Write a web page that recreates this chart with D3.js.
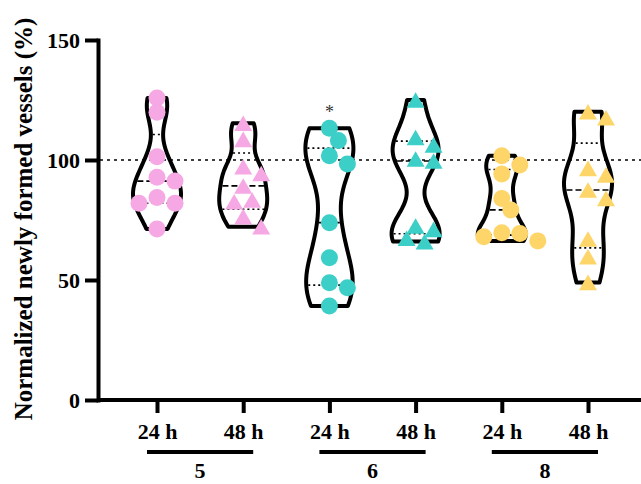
<!DOCTYPE html>
<html>
<head>
<meta charset="utf-8">
<title>Violin</title>
<script src="https://cdn.jsdelivr.net/npm/d3@7"></script>
<style>
body { margin: 0; background: #fff; }
svg text { font-family: "Liberation Serif", "Times New Roman", Tinos, "DejaVu Serif", serif !important; font-weight: bold; }
</style>
</head>
<body>
<div id="chart"></div>
<script>
// data (% of control)
var groups = ["5", "6", "8"];
var times = ["24 h", "48 h"];
var v5_24 = [125.8, 119.9, 101.4, 92.8, 91.2, 84.4, 82.0, 82.0, 71.3];
var v5_48 = [115.3, 108.6, 97.2, 94.4, 89.2, 83.3, 82.6, 76.4, 72.2];
var v6_24 = [113.2, 108.1, 101.8, 98.3, 73.9, 59.3, 48.9, 46.8, 39.2];
var v6_48 = [125.0, 109.4, 106.3, 100.4, 99.6, 72.5, 71.1, 67.4, 66.0];
var v8_24 = [101.8, 97.9, 94.2, 84.0, 79.2, 69.7, 69.4, 68.0, 66.3];
var v8_48 = [120.1, 117.6, 96.5, 93.8, 87.5, 84.0, 67.1, 59.7, 49.0];
var series = [v5_24, v5_48, v6_24, v6_48, v8_24, v8_48];
var marks = ["", "", "*", "", "", ""];
var yTicks = [0, 50, 100, 150];
var refLine = 100;

var colors = {"5": "#F5A8E4", "6": "#3CCFC7", "8": "#FDD568"};

var W = 641, H = 484;
var svg = d3.select("#chart").append("svg").attr("width", W).attr("height", H);

var keys = [];
groups.forEach(function(g) { times.forEach(function(t) { keys.push(g + "|" + t); }); });

var x = d3.scalePoint().domain(keys).range([157, 588]);
var y = d3.scaleLinear().domain([0, 150]).range([400, 40]);
var axisX = 98;

// reference line
svg.append("line")
    .attr("x1", axisX + 2).attr("x2", W)
    .attr("y1", y(refLine)).attr("y2", y(refLine))
    .attr("stroke", "#000").attr("stroke-width", 1.5)
    .attr("stroke-dasharray", "3,4");

function gauss(u) { return Math.exp(-0.5 * u * u) / Math.sqrt(2 * Math.PI); }
function quart(s, p) {
    // (n+1)p method
    var pos = (s.length + 1) * p - 1, lo = Math.floor(pos), f = pos - lo;
    return s[lo] + f * (s[lo + 1] - s[lo]);
}

var triSym = {
    draw: function(ctx, size) {
        var s = Math.sqrt(size * 4 / Math.sqrt(3)), h = s * Math.sqrt(3) / 2;
        ctx.moveTo(0, -h / 2);
        ctx.lineTo(s / 2, h / 2);
        ctx.lineTo(-s / 2, h / 2);
        ctx.closePath();
    }
};

keys.forEach(function(k, i) {
    var vals = series[i];
    var g = k.split("|")[0], t = k.split("|")[1];
    var cx = x(k);
    var s = vals.slice().sort(d3.ascending);
    var mn = s[0], mx = s[s.length - 1];
    var sd = d3.deviation(s), iqr = quart(s, 0.75) - quart(s, 0.25);
    var bw = 0.7 * 0.9 * Math.min(sd, iqr / 1.34) * Math.pow(s.length, -0.2);
    var dens = function(v) { return d3.mean(s, function(d) { return gauss((v - d) / bw); }) / bw; };
    var pts = d3.range(0, 61).map(function(j) { var v = mn + (mx - mn) * j / 60; return {v: v, d: dens(v)}; });
    var maxD = d3.max(pts, function(p) { return p.d; });
    var wScale = d3.scaleLinear().domain([0, maxD]).range([0, 24]);

    var gg = svg.append("g");

    // quartile + median lines
    [0.25, 0.5, 0.75].forEach(function(p) {
        var q = quart(s, p), hw = wScale(dens(q)) - 2;
        gg.append("line")
            .attr("x1", cx - hw).attr("x2", cx + hw)
            .attr("y1", y(q)).attr("y2", y(q))
            .attr("stroke", "#000").attr("stroke-width", 1.6)
            .attr("stroke-dasharray", p == 0.5 ? "6,3" : "2,3");
    });

    var area = d3.area()
        .y(function(p) { return y(p.v); })
        .x0(function(p) { return cx - wScale(p.d); })
        .x1(function(p) { return cx + wScale(p.d); })
        .curve(d3.curveCatmullRom);

    gg.append("path")
        .attr("d", area(pts))
        .attr("fill", "none")
        .attr("stroke", "#000")
        .attr("stroke-width", 4)
        .attr("stroke-linejoin", "round");

    // simple beeswarm for the dots
    var placed = [], step = 9, minD = t == "24 h" ? 13 : 15;
    vals.forEach(function(v) {
        var py = y(v), off = 0;
        for (var n = 0; n < 20; n++) {
            var o = (n % 2 ? 1 : -1) * Math.ceil(n / 2) * step;
            var ok = placed.every(function(p) {
                return Math.hypot(p.x - (cx + o), p.y - py) >= minD;
            });
            if (ok) { off = o; break; }
        }
        placed.push({x: cx + off, y: py});
    });

    var sym = t == "24 h" ? d3.symbolCircle : triSym;
    var size = t == "24 h" ? 227 : 140;
    gg.selectAll(".pt").data(placed).enter()
        .append("path")
        .attr("class", "pt")
        .attr("transform", function(p) { return "translate(" + p.x + "," + p.y + ")"; })
        .attr("d", d3.symbol().type(sym).size(size))
        .attr("fill", colors[g]);

    if (marks[i]) {
        gg.append("text")
            .attr("x", cx).attr("y", y(mx) - 10)
            .attr("text-anchor", "middle")
            .attr("font-size", 18)
            .style("font-weight", "normal")
            .attr("fill", "#333")
            .text(marks[i]);
    }
});

// y axis
var yAxis = svg.append("g")
    .attr("transform", "translate(" + axisX + ",0)")
    .call(d3.axisLeft(y).tickValues(yTicks).tickSize(13).tickSizeOuter(0).tickPadding(5));
yAxis.select(".domain").attr("stroke-width", 4).attr("stroke-linecap", "square");
yAxis.selectAll(".tick line").attr("stroke-width", 4);
yAxis.selectAll(".tick text").attr("font-size", 22).attr("fill", "#000");

// x axis
var xAxis = svg.append("g")
    .attr("transform", "translate(0," + y(0) + ")")
    .call(d3.axisBottom(x).tickSize(13).tickPadding(10.5).tickFormat(function(k) { return k.split("|")[1]; }));
xAxis.select(".domain").remove();
xAxis.append("line").attr("x1", axisX).attr("x2", W).attr("stroke", "#000").attr("stroke-width", 4);
xAxis.selectAll(".tick line").attr("stroke-width", 4);
xAxis.selectAll(".tick text").attr("font-size", 22).attr("fill", "#000");

// group brackets
groups.forEach(function(g) {
    var a = x(g + "|" + times[0]), b = x(g + "|" + times[1]);
    svg.append("line")
        .attr("x1", a - 10).attr("x2", b + 10)
        .attr("y1", 452).attr("y2", 452)
        .attr("stroke", "#000").attr("stroke-width", 4);
    svg.append("text")
        .attr("x", (a + b) / 2).attr("y", 478)
        .attr("text-anchor", "middle")
        .attr("font-size", 22)
        .text(g);
});

// y title
svg.append("text")
    .attr("transform", "translate(32," + 219 + ") rotate(-90)")
    .attr("text-anchor", "middle")
    .attr("font-size", 25)
    .text("Normalized newly formed vessels (%)");
</script>
</body>
</html>
